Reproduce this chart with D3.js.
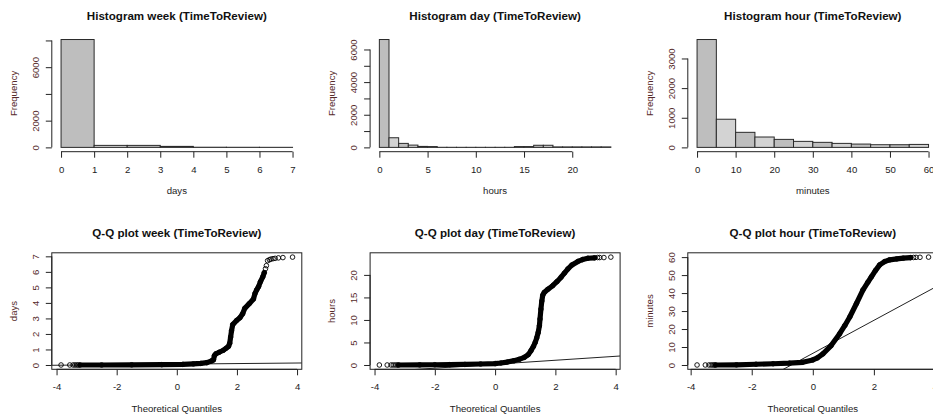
<!DOCTYPE html>
<html>
<head>
<meta charset="utf-8">
<script src="https://cdn.jsdelivr.net/npm/d3@7"></script>
<style>
  body { margin: 0; background: #fff; }
  svg { display: block; }
</style>
</head>
<body>
<div id="chart"></div>
<script>
const __CONFIG__ = {
  main_id: "chart",
  width: 933,
  height: 417,
  panel_w: 250,
  panel_h: 116.5,
  col_x: [51.8, 370.1, 687.8],
  row_y: [35.2, 252.8],
  font: '"Liberation Sans", Arial, sans-serif',
  text_color: "#1c1c1c",
  rot_color: "#552a2a"
};

// histograms: bin edges + counts
const week_breaks = [0, 1, 2, 3, 4, 5, 6, 7];
const week_counts = [8070, 150, 150, 75, 12, 8, 5];
const week_x_ticks = [0, 1, 2, 3, 4, 5, 6, 7];
const week_y_ticks = [0, 2000, 4000, 6000, 8000];
const week_y_labels = [0, 2000, 6000];

const day_breaks = [0, 1, 2, 3, 4, 5, 6, 7, 8, 9, 10, 11, 12, 13, 14, 15, 16, 17, 18, 19, 20, 21, 22, 23, 24];
const day_counts = [6610, 590, 245, 140, 60, 50, 6, 5, 4, 4, 4, 4, 5, 6, 50, 50, 130, 130, 30, 30, 30, 30, 30, 30];
const day_x_ticks = [0, 5, 10, 15, 20];
const day_y_ticks = [0, 1000, 2000, 3000, 4000, 5000, 6000];
const day_y_labels = [0, 2000, 4000, 6000];

const hour_breaks = [0, 5, 10, 15, 20, 25, 30, 35, 40, 45, 50, 55, 60];
const hour_counts = [3640, 950, 508, 350, 270, 203, 170, 135, 112, 90, 90, 100];
const hour_x_ticks = [0, 10, 20, 30, 40, 50, 60];
const hour_y_ticks = [0, 1000, 2000, 3000];
const hour_y_labels = [0, 1000, 2000, 3000];

// Q-Q plots: [theoretical quantile, sample value]
// dense part of the cloud
const week_band = [[-3.22, 0], [-2.5, 0], [-1.5, 0.01], [-0.5, 0.02], [0.2, 0.04], [0.55, 0.07], [0.8, 0.1],
  [1.0, 0.15], [1.14, 0.25], [1.22, 0.33], [1.25, 0.6], [1.3, 0.72], [1.41, 0.82], [1.55, 0.95], [1.64, 1.08],
  [1.72, 1.2], [1.76, 1.4], [1.79, 1.8], [1.82, 2.2], [1.86, 2.6], [1.99, 2.87], [2.1, 3.05], [2.19, 3.3],
  [2.26, 3.65], [2.41, 3.95], [2.55, 4.25], [2.6, 4.6], [2.66, 4.85], [2.72, 5.05], [2.78, 5.36], [2.86, 5.68],
  [2.91, 5.95]];
// sparse points in the tails
const week_tails = [[-3.85, 0], [-3.56, 0], [-3.45, 0], [-3.39, 0], [-3.33, 0], [-3.28, 0],
  [2.95, 6.2], [2.98, 6.4], [3.02, 6.72], [3.08, 6.78], [3.13, 6.82], [3.2, 6.85], [3.27, 6.87],
  [3.38, 6.9], [3.53, 6.92], [3.85, 6.95]];
const week_qqline = [0.055, 0.018]; // intercept, slope
const week_qq_y_ticks = [0, 1, 2, 3, 4, 5, 6, 7];

const day_band = [[-3.2, 0], [-2.5, 0.02], [-2, 0.05], [-1.5, 0.08], [-1, 0.12], [-0.48, 0.22], [0, 0.32],
  [0.19, 0.44], [0.4, 0.65], [0.63, 0.96], [0.8, 1.25], [0.97, 1.7], [1.1, 2.3], [1.19, 3.18], [1.27, 4.1],
  [1.33, 5.0], [1.38, 6.0], [1.43, 7.2], [1.47, 8.7], [1.49, 10.2], [1.52, 12.4], [1.55, 14.2], [1.58, 15.5],
  [1.63, 16.1], [1.75, 16.8], [1.91, 17.6], [2.05, 18.5], [2.19, 19.5], [2.3, 20.4], [2.41, 21.3],
  [2.55, 22.2], [2.75, 23.0], [2.9, 23.4], [3.08, 23.7], [3.3, 23.8]];
const day_tails = [[-3.84, 0], [-3.58, 0], [-3.45, 0], [-3.38, 0], [-3.31, 0], [-3.25, 0],
  [3.4, 23.85], [3.47, 23.85], [3.61, 23.85], [3.84, 23.95]];
const day_qqline = [0.17, 0.44];
const day_qq_y_ticks = [0, 5, 10, 15, 20];

const hour_band = [[-3.18, 0], [-2.5, 0.1], [-1.86, 0.4], [-1.3, 0.7], [-0.77, 1.0], [-0.33, 1.5], [0, 2.8],
  [0.15, 4.0], [0.33, 6.2], [0.6, 10.8], [0.88, 17.4], [1.05, 22], [1.21, 26.7], [1.43, 34.2], [1.64, 41.7],
  [1.8, 46], [1.92, 49.1], [2.05, 52.5], [2.19, 55.7], [2.35, 57.5], [2.52, 58.5], [2.75, 59.0],
  [2.96, 59.4], [3.2, 59.7]];
const hour_tails = [[-3.79, 0], [-3.52, 0], [-3.4, 0], [-3.33, 0], [-3.27, 0], [-3.22, 0],
  [3.3, 59.8], [3.38, 59.85], [3.51, 59.9], [3.79, 60]];
const hour_qqline = [6.47, 9.18];
const hour_qq_y_ticks = [0, 10, 20, 30, 40, 50, 60];

const qq_x_ticks = [-4, -2, 0, 2, 4];

function select_main(config=__CONFIG__) {
  return d3.select(`#${config.main_id}`);
}

// R pads the data range by 4% on each side
function pad_extent([lo, hi]) {
  const d = (hi - lo) * 0.04;
  return [lo - d, hi + d];
}

function style_axis(ax) {
  ax.attr("font-family", __CONFIG__.font)
    .attr("font-size", 9.6)
    .attr("color", "#222");
  ax.selectAll("text").attr("fill", __CONFIG__.text_color);
}

function add_x_axis(g, x, ticks) {
  const h = __CONFIG__.panel_h;
  const ax = g.append("g")
    .attr("transform", `translate(0,${h})`)
    .call(d3.axisBottom(x).tickValues(ticks).tickSize(6).tickSizeOuter(0).tickFormat(d => d));
  // axis line only spans first..last tick
  ax.select(".domain").attr("d", `M${x(ticks[0])},0H${x(ticks[ticks.length - 1])}`);
  style_axis(ax);
  ax.selectAll("text").attr("y", 17.5).attr("dy", "0.35em");
}

function add_y_axis(g, y, ticks, labels) {
  const ax = g.append("g")
    .call(d3.axisLeft(y).tickValues(ticks).tickSize(6).tickSizeOuter(0)
      .tickFormat(d => labels.includes(d) ? d : ""));
  ax.select(".domain").attr("d", `M0,${y(ticks[0])}V${y(ticks[ticks.length - 1])}`);
  style_axis(ax);
  ax.selectAll("text")
    .attr("x", null)
    .attr("dy", null)
    .attr("text-anchor", "middle")
    .attr("dominant-baseline", "central")
    .attr("transform", "translate(-16.5,0) rotate(-90)")
    .attr("fill", __CONFIG__.rot_color);
}

function add_labels(g, title, xlab, ylab) {
  const w = __CONFIG__.panel_w, h = __CONFIG__.panel_h;
  g.append("text")
    .attr("x", w / 2).attr("y", -20.2)
    .attr("text-anchor", "middle").attr("dominant-baseline", "central")
    .attr("font-family", __CONFIG__.font).attr("font-size", 11.6).attr("font-weight", "bold")
    .attr("fill", "#111")
    .text(title);
  g.append("text")
    .attr("x", w / 2).attr("y", h + 39)
    .attr("text-anchor", "middle").attr("dominant-baseline", "central")
    .attr("font-family", __CONFIG__.font).attr("font-size", 9.6)
    .attr("fill", __CONFIG__.text_color)
    .text(xlab);
  g.append("text")
    .attr("transform", `translate(-38.5,${h / 2}) rotate(-90)`)
    .attr("text-anchor", "middle").attr("dominant-baseline", "central")
    .attr("font-family", __CONFIG__.font).attr("font-size", 9.6)
    .attr("fill", __CONFIG__.rot_color)
    .text(ylab);
}

function draw_hist(g, p) {
  const w = __CONFIG__.panel_w, h = __CONFIG__.panel_h;
  const x = d3.scaleLinear()
    .domain(pad_extent([p.breaks[0], p.breaks[p.breaks.length - 1]]))
    .range([0, w]);
  const y = d3.scaleLinear()
    .domain(pad_extent([0, d3.max(p.counts)]))
    .range([h, 0]);

  g.selectAll("rect.bar")
    .data(p.counts)
    .join("rect")
    .classed("bar", true)
    .attr("x", (d, i) => x(p.breaks[i]))
    .attr("width", (d, i) => x(p.breaks[i + 1]) - x(p.breaks[i]))
    .attr("y", d => y(d))
    .attr("height", d => y(0) - y(d))
    .attr("fill", (d, i) => i % 2 ? "#d3d3d3" : "#bebebe")
    .attr("stroke", "#2a2a2a")
    .attr("stroke-width", 1);

  add_x_axis(g, x, p.x_ticks);
  add_y_axis(g, y, p.y_ticks, p.y_labels);
  add_labels(g, p.title, p.xlab, "Frequency");
}

function draw_qq(g, p, idx) {
  const w = __CONFIG__.panel_w, h = __CONFIG__.panel_h;
  const all = p.band.concat(p.tails);
  const x = d3.scaleLinear().domain(pad_extent(d3.extent(all, d => d[0]))).range([0, w]);
  const y = d3.scaleLinear().domain(pad_extent(d3.extent(all, d => d[1]))).range([h, 0]);

  const clip_id = `clip_qq_${idx}`;
  g.append("clipPath").attr("id", clip_id)
    .append("rect").attr("width", w).attr("height", h);

  const [x0, x1] = x.domain();
  const [a, b] = p.qqline;
  g.append("line")
    .attr("clip-path", `url(#${clip_id})`)
    .attr("x1", x(x0)).attr("y1", y(a + b * x0))
    .attr("x2", x(x1)).attr("y2", y(a + b * x1))
    .attr("stroke", "#222").attr("stroke-width", 1);

  // the dense cloud reads as a thick band of overlapping circles
  g.append("path")
    .datum(p.band)
    .attr("d", d3.line().x(d => x(d[0])).y(d => y(d[1])))
    .attr("fill", "none")
    .attr("stroke", "#000")
    .attr("stroke-width", 5.2)
    .attr("stroke-linejoin", "round")
    .attr("stroke-linecap", "round");

  g.selectAll("circle.pt")
    .data(all)
    .join("circle")
    .classed("pt", true)
    .attr("cx", d => x(d[0]))
    .attr("cy", d => y(d[1]))
    .attr("r", 2.3)
    .attr("fill", "none")
    .attr("stroke", "#000")
    .attr("stroke-width", 0.9);

  g.append("rect")
    .attr("width", w).attr("height", h)
    .attr("fill", "none").attr("stroke", "#222").attr("stroke-width", 1);

  add_x_axis(g, x, qq_x_ticks);
  add_y_axis(g, y, p.y_ticks, p.y_ticks);
  add_labels(g, p.title, "Theoretical Quantiles", p.ylab);
}

function main() {
  const cfg = __CONFIG__;
  const svg = select_main().append("svg")
    .attr("width", cfg.width)
    .attr("height", cfg.height);

  const hists = [
    {breaks: week_breaks, counts: week_counts, x_ticks: week_x_ticks, y_ticks: week_y_ticks,
     y_labels: week_y_labels, title: "Histogram week (TimeToReview)", xlab: "days"},
    {breaks: day_breaks, counts: day_counts, x_ticks: day_x_ticks, y_ticks: day_y_ticks,
     y_labels: day_y_labels, title: "Histogram day (TimeToReview)", xlab: "hours"},
    {breaks: hour_breaks, counts: hour_counts, x_ticks: hour_x_ticks, y_ticks: hour_y_ticks,
     y_labels: hour_y_labels, title: "Histogram hour (TimeToReview)", xlab: "minutes"}
  ];
  const qqs = [
    {band: week_band, tails: week_tails, qqline: week_qqline, y_ticks: week_qq_y_ticks,
     title: "Q-Q plot week (TimeToReview)", ylab: "days"},
    {band: day_band, tails: day_tails, qqline: day_qqline, y_ticks: day_qq_y_ticks,
     title: "Q-Q plot day (TimeToReview)", ylab: "hours"},
    {band: hour_band, tails: hour_tails, qqline: hour_qqline, y_ticks: hour_qq_y_ticks,
     title: "Q-Q plot hour (TimeToReview)", ylab: "minutes"}
  ];

  hists.forEach((p, i) => {
    const g = svg.append("g").attr("transform", `translate(${cfg.col_x[i]},${cfg.row_y[0]})`);
    draw_hist(g, p);
  });
  qqs.forEach((p, i) => {
    const g = svg.append("g").attr("transform", `translate(${cfg.col_x[i]},${cfg.row_y[1]})`);
    draw_qq(g, p, i);
  });
}

main();
</script>
</body>
</html>
